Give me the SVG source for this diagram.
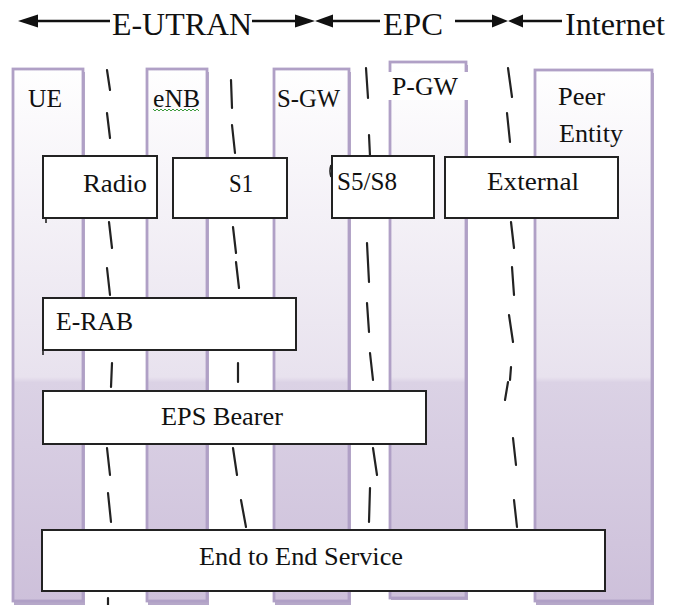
<svg xmlns="http://www.w3.org/2000/svg" width="683" height="605" viewBox="0 0 683 605">
<defs>
<linearGradient id="colfill" gradientUnits="userSpaceOnUse" x1="0" y1="62" x2="0" y2="605">
<stop offset="0" stop-color="#ffffff"/>
<stop offset="0.58" stop-color="#e8e2ee"/>
<stop offset="0.59" stop-color="#dbd2e5"/>
<stop offset="1" stop-color="#cdc0da"/>
</linearGradient>
<style>
.col{fill:url(#colfill);stroke:#b0a0c6;stroke-width:2.8}
.shadow{fill:#b6a8c9}
.box{fill:#ffffff;stroke:#222222;stroke-width:2}
.tick{fill:none;stroke:#222222;stroke-width:1.6}
text{font-family:'Liberation Serif','Times New Roman',Tinos,'DejaVu Serif',serif;fill:#111111}
.big{font-size:32px}
.lbl{font-size:25px}
.dash{fill:none;stroke:#222222;stroke-width:2.2;stroke-linecap:round}
.arr{fill:none;stroke:#111111;stroke-width:2.5}
.head{fill:#111111}
</style>
</defs>
<rect width="683" height="605" fill="#ffffff"/>

<g id="col-ue">
<rect class="shadow" x="14" y="72" width="71" height="533"/>
<rect class="col" x="13" y="69" width="70" height="532"/>
<text class="lbl" x="28" y="107" textLength="34" lengthAdjust="spacingAndGlyphs">UE</text>
</g>
<g id="col-enb">
<rect class="shadow" x="148" y="72" width="61" height="533"/>
<rect class="col" x="147" y="69" width="60" height="532"/>
<text class="lbl" x="153" y="107" textLength="47" lengthAdjust="spacingAndGlyphs">eNB</text>
<path d="M153,109 l2,2 l2,-2 l2,2 l2,-2 l2,2 l2,-2 l2,2 l2,-2 l2,2 l2,-2 l2,2 l2,-2 l2,2 l2,-2 l2,2 l2,-2 l2,2 l2,-2 l2,2 l2,-2 l2,2 l2,-2 l2,2" fill="none" stroke="#3c9a3c" stroke-width="1"/>
</g>
<g id="col-sgw">
<rect class="shadow" x="275" y="72" width="76" height="533"/>
<rect class="col" x="274" y="69" width="75" height="532"/>
<text class="lbl" x="277" y="107" textLength="63" lengthAdjust="spacingAndGlyphs">S-GW</text>
</g>
<g id="col-pgw">
<rect class="shadow" x="391" y="65" width="77" height="535"/>
<rect class="col" x="390" y="62" width="76" height="536"/>
<rect x="388" y="72" width="81" height="28" fill="#ffffff"/>
<text class="lbl" x="392" y="95" textLength="66" lengthAdjust="spacingAndGlyphs">P-GW</text>
</g>
<g id="col-peer">
<rect class="shadow" x="536" y="73" width="118" height="532"/>
<rect class="col" x="535" y="70" width="117" height="531"/>
<text class="lbl" x="558" y="105" textLength="47" lengthAdjust="spacingAndGlyphs">Peer</text>
<text class="lbl" x="559" y="142" textLength="64" lengthAdjust="spacingAndGlyphs">Entity</text>
</g>

<g id="connectors">
<path class="dash" d="M107,70 L110,90 M107,113 L110,138 M109,222 L112,248 M107,268 L110,295 M112,363 L111,387 M107,448 L110,475 M108,493 L111,522 M108,598 L108,605"/>
<path class="dash" d="M231,80 L232,108 M232,125 L235,153 M233,227 L236,253 M236,262 L239,288 M238,363 L238,382 M233,448 L237,475 M241,500 L246,527"/>
<path class="dash" d="M366,68 L368,98 M369,135 L370,156 M367,243 L369,282 M367,303 L369,332 M370,353 L373,380 M373,448 L377,475 M370,488 L369,522"/>
<path class="dash" d="M508,68 L512,97 M507,113 L510,142 M511,222 L514,248 M512,267 L514,295 M509,315 L513,342 M511,367 L510,380 M508,382 L505,400 M513,438 L516,465 M514,500 L517,527"/>
<path class="arr" d="M36,21 H110 M252,21 H296 M332,21 H380 M455,21 H493 M522,21 H562"/>
<polygon class="head" points="18,21 38,14.5 38,27.5"/>
<polygon class="head" points="315,21 295,14.5 295,27.5"/>
<polygon class="head" points="315,21 333,14.5 333,27.5"/>
<polygon class="head" points="508,21 492,14.5 492,27.5"/>
<polygon class="head" points="508,21 523,14.5 523,27.5"/>
</g>

<g id="domains">
<text class="big" x="112" y="35" textLength="140" lengthAdjust="spacingAndGlyphs">E-UTRAN</text>
<text class="big" x="383" y="35" textLength="60" lengthAdjust="spacingAndGlyphs">EPC</text>
<text class="big" x="565" y="35" textLength="100" lengthAdjust="spacingAndGlyphs">Internet</text>
</g>

<g id="box-radio">
<rect class="box" x="43" y="156" width="114" height="62"/>
<path class="tick" d="M46,218 V223"/>
<text class="lbl" x="83" y="192" textLength="64" lengthAdjust="spacingAndGlyphs">Radio</text>
</g>
<g id="box-s1">
<rect class="box" x="173" y="158" width="114" height="60"/>
<text class="lbl" x="229" y="192" textLength="24" lengthAdjust="spacingAndGlyphs">S1</text>
</g>
<g id="box-s5s8">
<rect class="box" x="332" y="156" width="102" height="62"/>
<path class="tick" d="M331,165 Q329,171 331,177"/>
<text class="lbl" x="337" y="190" textLength="60" lengthAdjust="spacingAndGlyphs">S5/S8</text>
</g>
<g id="box-external">
<rect class="box" x="445" y="157" width="173" height="61"/>
<text class="lbl" x="487" y="190" textLength="92" lengthAdjust="spacingAndGlyphs">External</text>
</g>
<g id="box-erab">
<rect class="box" x="43" y="298" width="253" height="52"/>
<path class="tick" d="M43,350 V355"/>
<text class="lbl" x="56" y="330" textLength="77" lengthAdjust="spacingAndGlyphs">E-RAB</text>
</g>
<g id="box-eps">
<rect class="box" x="43" y="391" width="383" height="53"/>
<text class="lbl" x="161" y="425" textLength="122" lengthAdjust="spacingAndGlyphs">EPS Bearer</text>
</g>
<g id="box-e2e">
<rect class="box" x="42" y="530" width="563" height="61"/>
<text class="lbl" x="199" y="565" textLength="204" lengthAdjust="spacingAndGlyphs">End to End Service</text>
</g>
</svg>
